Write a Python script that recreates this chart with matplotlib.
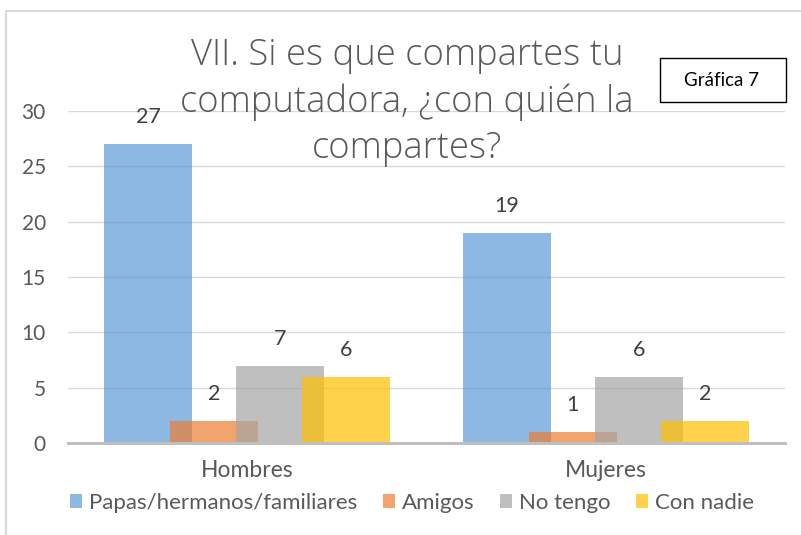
import matplotlib
matplotlib.use("Agg")
import matplotlib.pyplot as plt
import numpy as np
from matplotlib.patches import Rectangle, Patch
from matplotlib.lines import Line2D

categories = ["Hombres", "Mujeres"]
series_names = ["Papas/hermanos/familiares", "Amigos", "No tengo", "Con nadie"]
papas = [27, 19]
amigos = [2, 1]
no_tengo = [7, 6]
con_nadie = [6, 2]
values = [papas, amigos, no_tengo, con_nadie]
colors = ["#5B9BD5", "#ED7D31", "#A5A5A5", "#FFC000"]
yticks = [0, 5, 10, 15, 20, 25, 30]
title = "VII. Si es que compartes tu\ncomputadora, ¿con quién la\ncompartes?"

plt.rcParams['font.family'] = ['Lato', 'DejaVu Sans']

fig = plt.figure(figsize=(8.01, 5.35), dpi=100)
ax = fig.add_axes([68/801, 92/535, 717/801, 332/535])

x = np.arange(len(categories))
width = 0.245
step = 0.184
for i, (vals, c) in enumerate(zip(values, colors)):
    pos = x + (i - 1.5) * step
    bars = ax.bar(pos, vals, width=width, color=c, alpha=0.7, zorder=2 + i, label=series_names[i])
    for b, v in zip(bars, vals):
        ax.annotate(str(v), (b.get_x() + b.get_width() / 2, v), xytext=(0, 17),
                    textcoords='offset pixels', ha='center', va='bottom',
                    fontsize=15.5, color='#404040', zorder=10)

ax.set_xlim(-0.5, 1.5)
ax.set_ylim(0, 30)
ax.set_yticks(yticks)
ax.set_xticks(x)
ax.set_xticklabels(categories)
ax.tick_params(axis='both', length=0, colors='#595959')
ax.tick_params(axis='y', pad=16, labelsize=15)
ax.tick_params(axis='x', pad=12, labelsize=16.5)
ax.grid(axis='y', color='#D9D9D9', linewidth=1, zorder=0)
ax.set_axisbelow(True)
for s in ['top', 'right', 'left']:
    ax.spines[s].set_visible(False)
ax.spines['bottom'].set_color('#BFBFBF')
ax.spines['bottom'].set_linewidth(2.2)
ax.spines['bottom'].set_zorder(20)

fig.text(407/801, 1 - 102/535, title, ha='center', va='center', fontsize=26.2,
         color='#595959', family=['Open Sans', 'DejaVu Sans'], fontweight=300,
         linespacing=1.32)

# Gráfica 7 box
fig.add_artist(Rectangle((660/801, 1 - 102/535), 126/801, 44/535, transform=fig.transFigure,
                         facecolor='white', edgecolor='black', linewidth=1, zorder=30))
fig.text(722/801, 1 - 80/535, "Gráfica 7", ha='center', va='center', fontsize=13.5,
         color='black', zorder=31)

# outer border (top and left visible)
fig.add_artist(Line2D([6/801, 6/801, 1.0], [0.0, 1 - 11/535, 1 - 11/535],
                      transform=fig.transFigure, color='#D9D9D9', linewidth=1.5))

handles = [Patch(facecolor=c, alpha=0.7) for c in colors]
fig.legend(handles, series_names, loc='center', bbox_to_anchor=(412/801, 32/535), ncol=4,
           frameon=False, fontsize=16, handlelength=0.55, handleheight=0.55,
           handletextpad=0.3, columnspacing=1.15, labelcolor='#595959')

fig.savefig("out.png", dpi=100)
